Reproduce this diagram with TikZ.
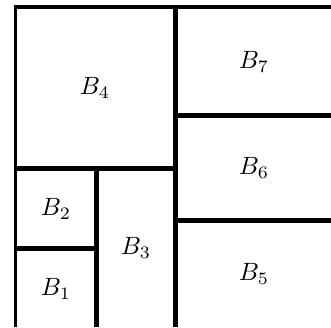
\documentclass[tikz,border=0pt]{standalone}
\begin{document}
\begin{tikzpicture}[x=0.4pt,y=-0.4pt,font=\normalsize,
  cut/.style={line width=2pt},
  rim/.style={line width=1.4pt}]
  \useasboundingbox (0,0) rectangle (331,327);

  \coordinate (TL) at (15.5,7);
  \coordinate (TM) at (175.3,7);
  \coordinate (BM) at (175.3,327);

  % outer frame
  \draw[rim] (15.5,327) -- (TL) -- (331,7);

  % vertical split
  \draw[cut] (TM) -- (BM);

  % left half
  \draw[cut] (15.5,168) -- (175.3,168);
  \draw[cut] (96.3,168) -- (96.3,327);
  \draw[cut] (15.5,248) -- (96.3,248);

  % right half
  \draw[cut] (175.3,115) -- (331,115);
  \draw[cut] (175.3,220) -- (331,220);

  \node (b4) at (95,88) {$B_4$};
  \node (b7) at (254,62) {$B_7$};
  \node (b6) at (254,168) {$B_6$};
  \node (b5) at (254,274) {$B_5$};
  \node (b2) at (56,209) {$B_2$};
  \node (b1) at (56,289) {$B_1$};
  \node (b3) at (136,248) {$B_3$};
\end{tikzpicture}
\end{document}
